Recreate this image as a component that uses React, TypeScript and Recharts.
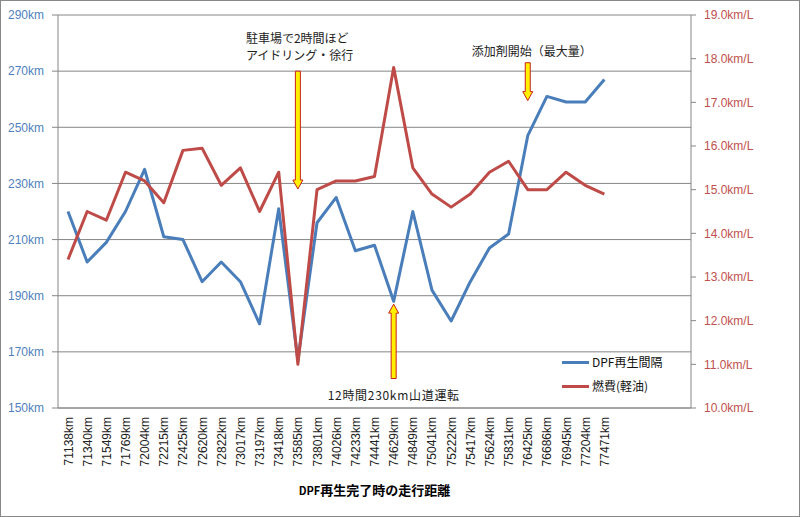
import {
  CartesianGrid,
  ComposedChart,
  Legend,
  Line,
  ReferenceLine,
  XAxis,
  YAxis,
} from 'recharts'

const CATEGORIES = [
  '71138km', '71340km', '71549km', '71769km', '72004km', '72215km', '72425km', '72620km',
  '72822km', '73017km', '73197km', '73418km', '73585km', '73801km', '74026km', '74233km',
  '74441km', '74629km', '74849km', '75041km', '75222km', '75417km', '75624km', '75831km',
  '76425km', '76686km', '76945km', '77204km', '77471km',
]
// empty slots Excel left at the end of the category axis
const BLANK_SLOTS = ['', ' ', '  ', '   ']

const DPF_INTERVAL = [
  220, 202, 209, 220, 235, 211, 210, 195, 202, 195, 180, 221, 167, 216, 225, 206,
  208, 188, 220, 192, 181, 195, 207, 212, 247, 261, 259, 259, 267,
]
const FUEL = [
  13.4, 14.5, 14.3, 15.4, 15.2, 14.7, 15.9, 15.95, 15.1, 15.5, 14.5, 15.4, 11.0, 15.0, 15.2, 15.2,
  15.3, 17.8, 15.5, 14.9, 14.6, 14.9, 15.4, 15.65, 15.0, 15.0, 15.4, 15.1, 14.9,
]

const KM_TICKS = [150, 170, 190, 210, 230, 250, 270, 290]
const FUEL_TICKS = [10, 11, 12, 13, 14, 15, 16, 17, 18, 19]

const SERIES_NAMES = ['DPF再生間隔', '燃費(軽油)']

const NOTE_IDLE = ['駐車場で2時間ほど', 'アイドリング・徐行']
const NOTE_MOUNTAIN = '12時間230km山道運転'
const NOTE_ADDITIVE = '添加剤開始（最大量）'

const data = [
  ...CATEGORIES.map((name, i) => ({ name, dpf: DPF_INTERVAL[i], fuel: FUEL[i] })),
  ...BLANK_SLOTS.map((name) => ({ name, dpf: null, fuel: null })),
]

const BLUE = '#4A7EBB'
const RED = '#BE4B48'
const GRID = '#868686'
const LATIN = '"Liberation Sans", Arial, sans-serif'
const JP = '"Noto Sans CJK JP", sans-serif'

function arrowPath(x: number, y1: number, y2: number) {
  const dir = y2 > y1 ? 1 : -1
  const shaft = 2.5
  const head = 5
  const headLen = 9
  const yb = y2 - dir * headLen
  return [
    [x - shaft, y1], [x + shaft, y1], [x + shaft, yb], [x + head, yb],
    [x, y2], [x - head, yb], [x - shaft, yb],
  ].map((p) => p.join(',')).join(' ')
}

const arrowShape = (note: (x: number, y1: number, y2: number) => any) => (props: any) => {
  const { x1, y1, y2 } = props
  return (
    <g>
      <polygon points={arrowPath(x1, y1, y2)} fill="#FFF000" stroke="#C8201A" strokeWidth={1} />
      {note(x1, y1, y2)}
    </g>
  )
}

const noteText = { fontFamily: JP, fontSize: 12, fill: '#222' }

const XTick = ({ x, y, payload }: any) => (
  <text
    transform={`translate(${x + 4.5},${y}) rotate(-90)`}
    textAnchor="end"
    fontFamily={LATIN}
    fontSize={12}
    fill="#222"
  >
    {payload.value.trim()}
  </text>
)

const LegendBox = () => (
  <div style={{ fontFamily: JP, fontSize: 12, color: '#111', lineHeight: '24px' }}>
    {SERIES_NAMES.map((n, i) => (
      <div key={n} style={{ display: 'flex', alignItems: 'center' }}>
        <span style={{ width: 27, height: 3, background: i === 0 ? BLUE : RED, marginRight: 3 }} />
        <span>{n}</span>
      </div>
    ))}
  </div>
)

export default function App() {
  return (
    <div style={{ position: 'absolute', left: 0, top: 0, width: 800, height: 517, background: '#fff' }}>
      <ComposedChart
        width={800}
        height={517}
        data={data}
        margin={{ top: 15, right: 0, bottom: 0, left: 0 }}
      >
        <CartesianGrid yAxisId="km" vertical={false} stroke={GRID} />
        <XAxis
          dataKey="name"
          interval={0}
          height={109}
          padding={{ left: 10, right: 10 }}
          tick={<XTick />}
          tickLine={false}
          tickSize={0}
          tickMargin={9}
          axisLine={{ stroke: GRID }}
          label={{
            position: 'insideBottom',
            content: ({ viewBox }: any) => (
              <text
                x={viewBox.x + viewBox.width / 2}
                y={viewBox.y + viewBox.height - 22}
                textAnchor="middle"
                fontFamily={JP}
                fontWeight="bold"
                fontSize={13}
                fill="#000"
              >
                <tspan fontSize={11}>DPF</tspan>
                <tspan>再生完了時の走行距離</tspan>
              </text>
            ),
          }}
        />
        <YAxis
          yAxisId="km"
          width={58}
          domain={[150, 290]}
          ticks={KM_TICKS}
          tickFormatter={(v) => `${v}km`}
          tick={{ fill: '#4F81BD', fontFamily: LATIN, fontSize: 12 }}
          tickSize={6}
          tickMargin={8}
          axisLine={{ stroke: GRID }}
          tickLine={{ stroke: GRID }}
        />
        <YAxis
          yAxisId="fuel"
          orientation="right"
          width={109}
          domain={[10, 19]}
          ticks={FUEL_TICKS}
          tickFormatter={(v) => `${Number(v).toFixed(1)}km/L`}
          tick={{ fill: '#C0504D', fontFamily: LATIN, fontSize: 12, textAnchor: 'start' }}
          tickSize={5}
          tickMargin={8}
          axisLine={{ stroke: GRID }}
          tickLine={{ stroke: GRID }}
        />
        <Line
          yAxisId="km"
          dataKey="dpf"
          name={SERIES_NAMES[0]}
          stroke={BLUE}
          strokeWidth={3}
          strokeLinejoin="round"
          dot={false}
          isAnimationActive={false}
        />
        <Line
          yAxisId="fuel"
          dataKey="fuel"
          name={SERIES_NAMES[1]}
          stroke={RED}
          strokeWidth={3}
          strokeLinejoin="round"
          dot={false}
          isAnimationActive={false}
        />
        <ReferenceLine
          yAxisId="km"
          ifOverflow="visible"
          segment={[{ x: '73585km', y: 270 }, { x: '73585km', y: 228 }]}
          shape={arrowShape((x, y1) => (
            <text {...noteText} x={x - 52} y={y1 - 28}>
              <tspan x={x - 52}>{NOTE_IDLE[0]}</tspan>
              <tspan x={x - 52} dy={17}>{NOTE_IDLE[1]}</tspan>
            </text>
          ))}
        />
        <ReferenceLine
          yAxisId="km"
          ifOverflow="visible"
          segment={[{ x: '74629km', y: 160.5 }, { x: '74629km', y: 187 }]}
          shape={arrowShape((x, y1) => (
            <text {...noteText} x={x - 66} y={y1 + 21} letterSpacing={0.7}>
              {NOTE_MOUNTAIN}
            </text>
          ))}
        />
        <ReferenceLine
          yAxisId="km"
          ifOverflow="visible"
          segment={[{ x: '76425km', y: 273 }, { x: '76425km', y: 259.5 }]}
          shape={arrowShape((x, y1) => (
            <text {...noteText} x={x + 4} y={y1 - 7} textAnchor="middle">
              {NOTE_ADDITIVE}
            </text>
          ))}
        />
        <Legend
          layout="horizontal"
          verticalAlign="middle"
          align="center"
          content={<LegendBox />}
          wrapperStyle={{ left: 562, top: 350, width: 130 }}
        />
      </ComposedChart>
      <div
        style={{
          position: 'absolute', left: 0, top: 0, width: 800, height: 517,
          border: '1px solid #888', boxSizing: 'border-box', pointerEvents: 'none',
        }}
      />
    </div>
  )
}
